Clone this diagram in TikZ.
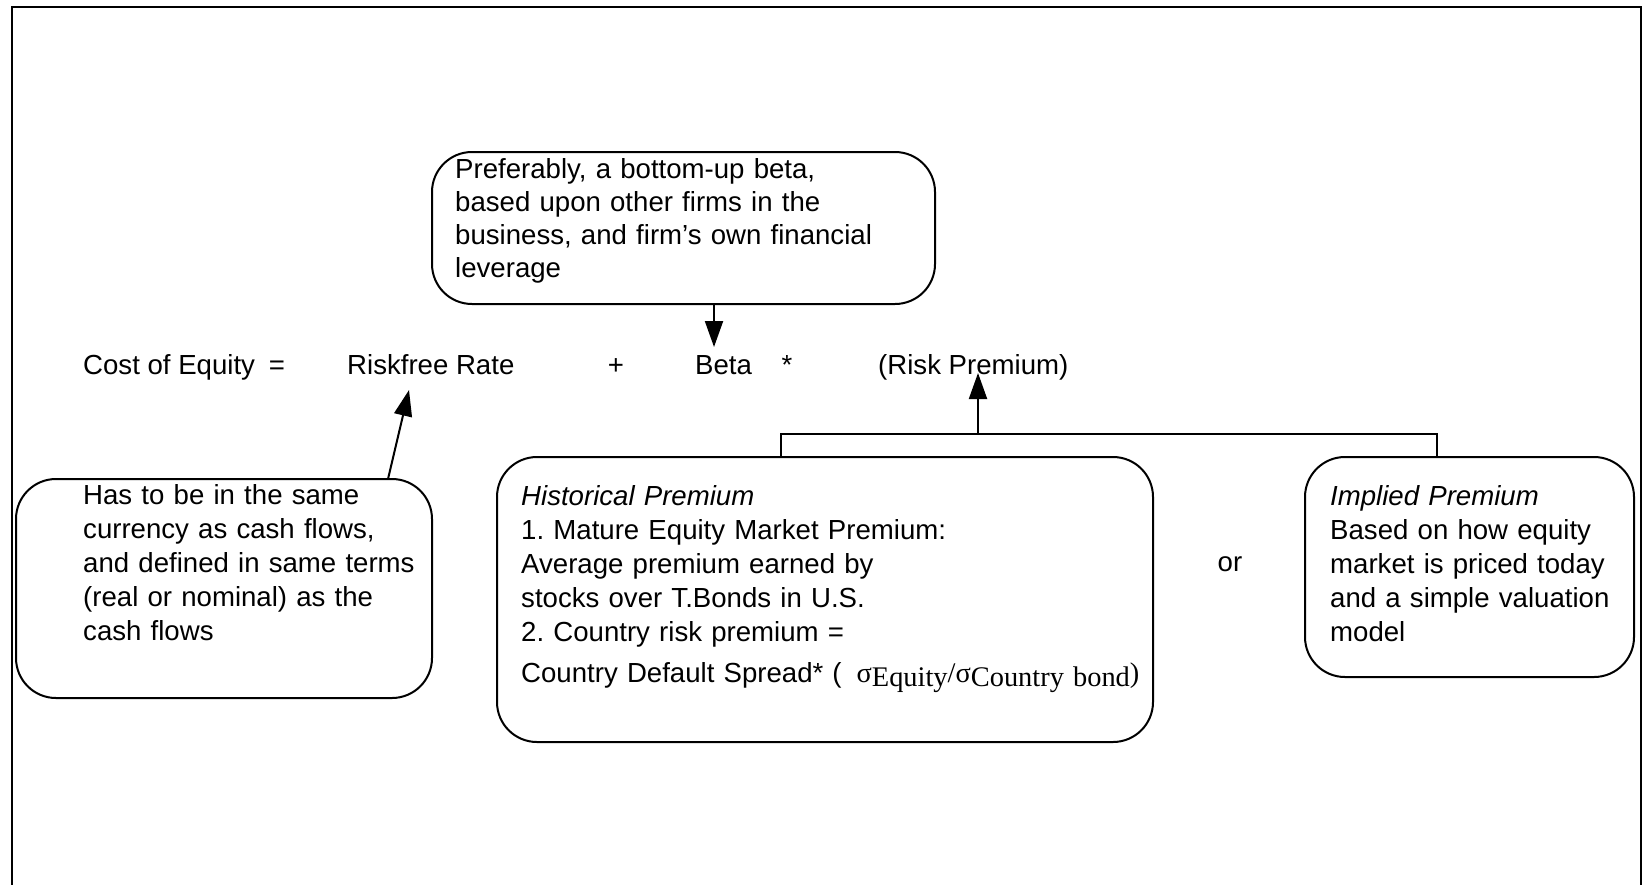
\documentclass[tikz,border=0pt]{standalone}
\usepackage{fontspec}
\setmainfont{Liberation Sans}
\newfontfamily\tnr{Liberation Serif}
\usetikzlibrary{arrows.meta}
\frenchspacing
\begin{document}
\begin{tikzpicture}[x=1pt,y=-1pt,
  every node/.style={inner sep=0pt, font=\fontsize{27.6}{34}\selectfont},
  box/.style={draw, line width=2pt, rounded corners=40pt, rectangle},
  txt/.style={anchor=base west, align=left, text width=#1},
  arr/.style={line width=2pt, -{Triangle[length=26pt,width=18pt]}},
  conn/.style={line width=2pt}
]
\useasboundingbox (0,0) rectangle (1645,884);
\clip (0,0) rectangle (1645,884);
% frame
\draw[line width=2pt] (11.5,900) -- (11.5,7) -- (1641,7) -- (1641,900);

% equation line
\node[anchor=base west] (cost) at (83,374) {Cost of Equity\hspace{14pt}=};
\node[anchor=base west] (rf) at (347,374) {Riskfree Rate};
\node[anchor=base] (plus) at (616,374) {+};
\node[anchor=base west] (beta) at (695,374) {Beta};
\node[anchor=base] (star) at (787,374) {*};
\node[anchor=base west] (rp) at (878,374) {(Risk Premium)};

% boxes
\node[box, minimum width=503pt, minimum height=152pt] (betabox) at (683.5,228) {};
\node[txt=470pt, font=\fontsize{27.6}{33.2}\selectfont] (betatxt) at (455,178) {Preferably, a bottom-up beta,\\based upon other firms in the\\business, and firm’s own financial\\leverage};

\node[box, minimum width=416pt, minimum height=219pt] (rfbox) at (224,588.5) {};
\node[txt=400pt] (rftxt) at (83,504) {Has to be in the same\\currency as cash flows,\\and defined in same terms\\(real or nominal) as the\\cash flows};

\node[box, minimum width=656pt, minimum height=285pt] (histbox) at (825,599.5) {};
\node[txt=640pt] (histtxt) at (521,505) {{\itshape Historical Premium}\\1. Mature Equity Market Premium:\\Average premium earned by\\stocks over T.Bonds in U.S.\\2. Country risk premium =\\[7pt]Country Default Spread*\hspace{9pt}(\hspace{15pt}{\tnr\fontsize{28.4}{34}\selectfont σ\raisebox{-4pt}{Equity}/σ\raisebox{-4pt}{Country bond})}};

\node[box, minimum width=329pt, minimum height=220pt] (implbox) at (1469.5,567) {};
\node[txt=310pt] (impltxt) at (1330,505) {{\itshape Implied Premium}\\Based on how equity\\market is priced today\\and a simple valuation\\model};

\node[anchor=base] (or) at (1230,571) {or};

% connectors
\coordinate (betatip) at (714,347);
\draw[arr] (betabox.south -| betatip) -- (betatip);

\coordinate (rfstart) at (388,479);
\coordinate (rftip) at (409,390);
\draw[arr] (rfstart) -- (rftip);

\coordinate (hj) at (781,434);
\coordinate (ij) at (1437,434);
\coordinate (rpj) at (978,434);
\coordinate (rptip) at (978,373);
\draw[conn] (histbox.north -| hj) -- (hj) -- (ij) -- (ij |- implbox.north);
\draw[arr] (rpj) -- (rptip);
\end{tikzpicture}
\end{document}
